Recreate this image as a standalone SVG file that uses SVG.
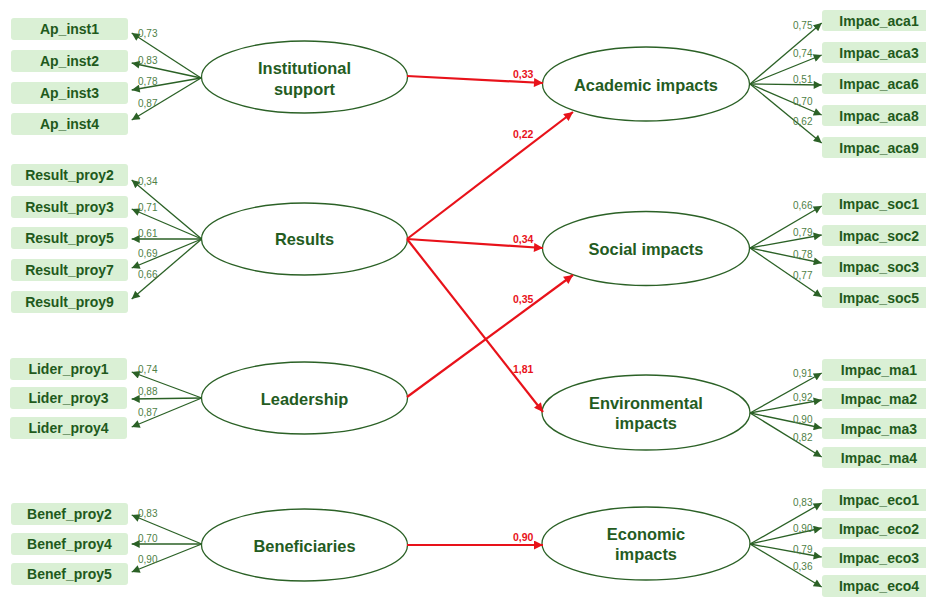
<svg xmlns="http://www.w3.org/2000/svg" width="926" height="597" viewBox="0 0 926 597">
  <defs>
    <marker id="ag" viewBox="0 0 10 10" refX="10" refY="5" markerWidth="9" markerHeight="8" markerUnits="userSpaceOnUse" orient="auto">
      <path d="M0,0 L10,5 L0,10 z" fill="#2b6126"/>
    </marker>
    <marker id="ar" viewBox="0 0 10 10" refX="10" refY="5" markerWidth="10" markerHeight="9" markerUnits="userSpaceOnUse" orient="auto">
      <path d="M0,0 L10,5 L0,10 z" fill="#e8121a"/>
    </marker>
  </defs>
  <style>
    .box rect { fill: #daf0d5; }
    .box text { font-family: "Liberation Sans", Arial, sans-serif; font-size: 14px; font-weight: bold; fill: #1f5a1c; text-anchor: middle; }
    .lat ellipse { fill: #ffffff; stroke: #2b6126; stroke-width: 1.3; }
    .lat text { font-family: "Liberation Sans", Arial, sans-serif; font-size: 16.4px; font-weight: bold; fill: #245c1f; text-anchor: middle; }
    .g { stroke: #2b6126; stroke-width: 1.3; fill: none; marker-end: url(#ag); }
    .r { stroke: #e8121a; stroke-width: 2.2; fill: none; marker-end: url(#ar); }
    .cg { font-family: "Liberation Sans", Arial, sans-serif; font-size: 10px; fill: #4f7f47; }
    .cr { font-family: "Liberation Sans", Arial, sans-serif; font-size: 10.5px; font-weight: bold; fill: #e8121a; }
  </style>

  <!-- indicator boxes, left -->
  <g id="Ap_inst1" class="box"><rect x="11" y="18" width="117" height="22" rx="3"/><text x="69.5" y="34">Ap_inst1</text></g>
  <g id="Ap_inst2" class="box"><rect x="11" y="50" width="117" height="22" rx="3"/><text x="69.5" y="66">Ap_inst2</text></g>
  <g id="Ap_inst3" class="box"><rect x="11" y="82" width="117" height="22" rx="3"/><text x="69.5" y="98">Ap_inst3</text></g>
  <g id="Ap_inst4" class="box"><rect x="11" y="113" width="117" height="22" rx="3"/><text x="69.5" y="129">Ap_inst4</text></g>

  <g id="Result_proy2" class="box"><rect x="11" y="164" width="117" height="22" rx="3"/><text x="69.5" y="180">Result_proy2</text></g>
  <g id="Result_proy3" class="box"><rect x="11" y="196" width="117" height="22" rx="3"/><text x="69.5" y="212">Result_proy3</text></g>
  <g id="Result_proy5" class="box"><rect x="11" y="227" width="117" height="22" rx="3"/><text x="69.5" y="243">Result_proy5</text></g>
  <g id="Result_proy7" class="box"><rect x="11" y="259" width="117" height="22" rx="3"/><text x="69.5" y="275">Result_proy7</text></g>
  <g id="Result_proy9" class="box"><rect x="11" y="291" width="117" height="22" rx="3"/><text x="69.5" y="307">Result_proy9</text></g>

  <g id="Lider_proy1" class="box"><rect x="10" y="358" width="117" height="22" rx="3"/><text x="68.5" y="374">Lider_proy1</text></g>
  <g id="Lider_proy3" class="box"><rect x="10" y="387" width="117" height="22" rx="3"/><text x="68.5" y="403">Lider_proy3</text></g>
  <g id="Lider_proy4" class="box"><rect x="10" y="417" width="117" height="22" rx="3"/><text x="68.5" y="433">Lider_proy4</text></g>

  <g id="Benef_proy2" class="box"><rect x="11" y="503" width="117" height="22" rx="3"/><text x="69.5" y="519">Benef_proy2</text></g>
  <g id="Benef_proy4" class="box"><rect x="11" y="533" width="117" height="22" rx="3"/><text x="69.5" y="549">Benef_proy4</text></g>
  <g id="Benef_proy5" class="box"><rect x="11" y="563" width="117" height="22" rx="3"/><text x="69.5" y="579">Benef_proy5</text></g>

  <!-- indicator boxes, right -->
  <g id="Impac_aca1" class="box"><rect x="822" y="10" width="116" height="21" rx="3"/><text x="879" y="26">Impac_aca1</text></g>
  <g id="Impac_aca3" class="box"><rect x="822" y="42" width="116" height="21" rx="3"/><text x="879" y="58">Impac_aca3</text></g>
  <g id="Impac_aca6" class="box"><rect x="822" y="73" width="116" height="21" rx="3"/><text x="879" y="89">Impac_aca6</text></g>
  <g id="Impac_aca8" class="box"><rect x="822" y="105" width="116" height="21" rx="3"/><text x="879" y="121">Impac_aca8</text></g>
  <g id="Impac_aca9" class="box"><rect x="822" y="137" width="116" height="21" rx="3"/><text x="879" y="153">Impac_aca9</text></g>

  <g id="Impac_soc1" class="box"><rect x="822" y="193" width="116" height="22" rx="3"/><text x="879" y="209">Impac_soc1</text></g>
  <g id="Impac_soc2" class="box"><rect x="822" y="225" width="116" height="21" rx="3"/><text x="879" y="241">Impac_soc2</text></g>
  <g id="Impac_soc3" class="box"><rect x="822" y="256" width="116" height="21" rx="3"/><text x="879" y="272">Impac_soc3</text></g>
  <g id="Impac_soc5" class="box"><rect x="822" y="287" width="116" height="21" rx="3"/><text x="879" y="303">Impac_soc5</text></g>

  <g id="Impac_ma1" class="box"><rect x="822" y="359" width="116" height="22" rx="3"/><text x="879" y="375">Impac_ma1</text></g>
  <g id="Impac_ma2" class="box"><rect x="822" y="388" width="116" height="21" rx="3"/><text x="879" y="404">Impac_ma2</text></g>
  <g id="Impac_ma3" class="box"><rect x="822" y="418" width="116" height="21" rx="3"/><text x="879" y="434">Impac_ma3</text></g>
  <g id="Impac_ma4" class="box"><rect x="822" y="447" width="116" height="21" rx="3"/><text x="879" y="463">Impac_ma4</text></g>

  <g id="Impac_eco1" class="box"><rect x="822" y="489" width="116" height="22" rx="3"/><text x="879" y="505">Impac_eco1</text></g>
  <g id="Impac_eco2" class="box"><rect x="822" y="518" width="116" height="21" rx="3"/><text x="879" y="534">Impac_eco2</text></g>
  <g id="Impac_eco3" class="box"><rect x="822" y="547" width="116" height="21" rx="3"/><text x="879" y="563">Impac_eco3</text></g>
  <g id="Impac_eco4" class="box"><rect x="822" y="575" width="116" height="22" rx="3"/><text x="879" y="591">Impac_eco4</text></g>

  <!-- latent constructs -->
  <g id="institutional_support" class="lat"><ellipse cx="304.5" cy="77" rx="103" ry="36"/><text x="304.5" y="74">Institutional</text><text x="304.5" y="95">support</text></g>
  <g id="results" class="lat"><ellipse cx="304.5" cy="239" rx="103" ry="36"/><text x="304.5" y="245">Results</text></g>
  <g id="leadership" class="lat"><ellipse cx="304.5" cy="398" rx="103" ry="36"/><text x="304.5" y="404.5">Leadership</text></g>
  <g id="beneficiaries" class="lat"><ellipse cx="304.5" cy="545" rx="103" ry="36"/><text x="304.5" y="551.5">Beneficiaries</text></g>

  <g id="academic_impacts" class="lat"><ellipse cx="646" cy="84" rx="103.5" ry="37"/><text x="646" y="90.7">Academic impacts</text></g>
  <g id="social_impacts" class="lat"><ellipse cx="646" cy="248.5" rx="103.5" ry="37"/><text x="646" y="255">Social impacts</text></g>
  <g id="environmental_impacts" class="lat"><ellipse cx="646" cy="412.5" rx="104" ry="37.5"/><text x="646" y="409">Environmental</text><text x="646" y="429">impacts</text></g>
  <g id="economic_impacts" class="lat"><ellipse cx="646" cy="543.5" rx="104" ry="36.5"/><text x="646" y="540">Economic</text><text x="646" y="560">impacts</text></g>

  <!-- connectors -->
  <g id="connectors">
    <!-- loadings, left constructs -->
    <path class="g" d="M201,78 L131.7,33"/>
    <path class="g" d="M201,78 L131.7,63"/>
    <path class="g" d="M201,78 L131.7,90"/>
    <path class="g" d="M201,78 L131.7,120"/>

    <path class="g" d="M201.7,239 L131.7,180"/>
    <path class="g" d="M201.7,239 L131.7,209"/>
    <path class="g" d="M201.7,239 L131.7,239"/>
    <path class="g" d="M201.7,239 L131.7,268"/>
    <path class="g" d="M201.7,239 L131.7,299"/>

    <path class="g" d="M201.7,398 L131.7,372"/>
    <path class="g" d="M201.7,398 L131.7,399"/>
    <path class="g" d="M201.7,398 L131.7,427"/>

    <path class="g" d="M201.7,544 L131.7,515"/>
    <path class="g" d="M201.7,544 L131.7,544"/>
    <path class="g" d="M201.7,544 L131.7,572"/>

    <!-- loadings, right constructs -->
    <path class="g" d="M750,84 L821.7,23"/>
    <path class="g" d="M750,84 L821.7,55"/>
    <path class="g" d="M750,84 L821.7,85"/>
    <path class="g" d="M750,84 L821.7,115"/>
    <path class="g" d="M750,84 L821.7,143"/>

    <path class="g" d="M750,248 L821.7,206"/>
    <path class="g" d="M750,248 L821.7,235"/>
    <path class="g" d="M750,248 L821.7,263"/>
    <path class="g" d="M750,248 L821.7,297"/>

    <path class="g" d="M750,413 L821.7,373"/>
    <path class="g" d="M750,413 L821.7,400"/>
    <path class="g" d="M750,413 L821.7,428"/>
    <path class="g" d="M750,413 L821.7,457"/>

    <path class="g" d="M750,544 L821.7,503"/>
    <path class="g" d="M750,544 L821.7,528"/>
    <path class="g" d="M750,544 L821.7,557"/>
    <path class="g" d="M750,544 L821.7,587"/>

    <!-- structural paths -->
    <path class="r" d="M407,76 L543,83"/>
    <path class="r" d="M407,239 L573,112"/>
    <path class="r" d="M407,239 L543,248"/>
    <path class="r" d="M407,397 L573,275"/>
    <path class="r" d="M407,239 L543,412"/>
    <path class="r" d="M407,545 L543,545"/>

    <!-- loading values -->
    <text class="cg" x="138" y="37">0,73</text>
    <text class="cg" x="138" y="64">0,83</text>
    <text class="cg" x="138" y="85">0,78</text>
    <text class="cg" x="138" y="107">0,87</text>

    <text class="cg" x="138" y="185">0,34</text>
    <text class="cg" x="138" y="211">0,71</text>
    <text class="cg" x="138" y="237">0,61</text>
    <text class="cg" x="138" y="257">0,69</text>
    <text class="cg" x="138" y="278">0,66</text>

    <text class="cg" x="138" y="373">0,74</text>
    <text class="cg" x="138" y="395">0,88</text>
    <text class="cg" x="138" y="416">0,87</text>

    <text class="cg" x="138" y="517">0,83</text>
    <text class="cg" x="138" y="542">0,70</text>
    <text class="cg" x="138" y="563">0,90</text>

    <text class="cg" x="793" y="29">0,75</text>
    <text class="cg" x="793" y="57">0,74</text>
    <text class="cg" x="793" y="83">0,51</text>
    <text class="cg" x="793" y="105">0,70</text>
    <text class="cg" x="793" y="125">0,62</text>

    <text class="cg" x="793" y="209">0,66</text>
    <text class="cg" x="793" y="236">0,79</text>
    <text class="cg" x="793" y="258">0,78</text>
    <text class="cg" x="793" y="279">0,77</text>

    <text class="cg" x="793" y="377">0,91</text>
    <text class="cg" x="793" y="401">0,92</text>
    <text class="cg" x="793" y="423">0,90</text>
    <text class="cg" x="793" y="441">0,82</text>

    <text class="cg" x="793" y="506">0,83</text>
    <text class="cg" x="793" y="532">0,90</text>
    <text class="cg" x="793" y="553">0,79</text>
    <text class="cg" x="793" y="570">0,36</text>

    <!-- path coefficients -->
    <text class="cr" x="513" y="78">0,33</text>
    <text class="cr" x="513" y="138">0,22</text>
    <text class="cr" x="513" y="243">0,34</text>
    <text class="cr" x="513" y="303">0,35</text>
    <text class="cr" x="513" y="373">1,81</text>
    <text class="cr" x="513" y="541">0,90</text>
  </g>
</svg>
